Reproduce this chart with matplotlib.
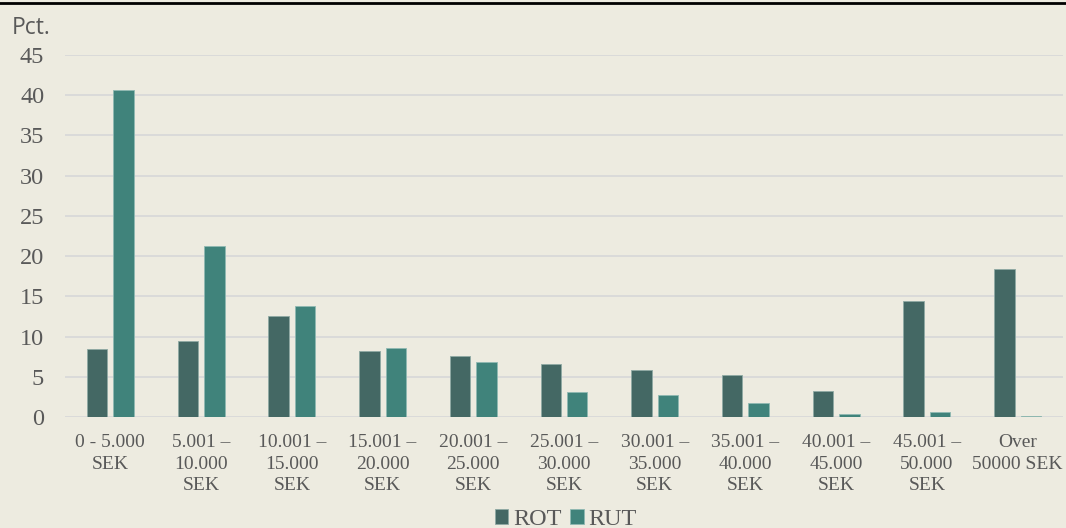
import matplotlib
matplotlib.use("Agg")
import matplotlib.pyplot as plt
import numpy as np
from matplotlib.lines import Line2D

categories = ["0 - 5.000\nSEK", "5.001 –\n10.000\nSEK", "10.001 –\n15.000\nSEK",
              "15.001 –\n20.000\nSEK", "20.001 –\n25.000\nSEK", "25.001 –\n30.000\nSEK",
              "30.001 –\n35.000\nSEK", "35.001 –\n40.000\nSEK", "40.001 –\n45.000\nSEK",
              "45.001 –\n50.000\nSEK", "Over\n50000 SEK"]
rot = [8.4, 9.4, 12.6, 8.2, 7.6, 6.6, 5.8, 5.2, 3.2, 14.4, 18.4]
rut = [40.7, 21.3, 13.8, 8.6, 6.8, 3.1, 2.7, 1.7, 0.35, 0.62, 0.15]
yticks = [0, 5, 10, 15, 20, 25, 30, 35, 40, 45]

BG = "#EDEBE0"
ROT_C = "#446864"
RUT_C = "#40837B"
TXT = "#595959"
SERIF = ["Liberation Serif", "DejaVu Serif"]

W, H = 1066, 528
fig = plt.figure(figsize=(W / 100, H / 100), dpi=100, facecolor=BG)
ax = fig.add_axes([65 / W, 111 / H, (1063 - 65) / W, 362 / H], facecolor=BG)

x = np.arange(len(categories))
bw = 0.226
off = 0.146
ax.bar(x - off, rot, bw, color=ROT_C, edgecolor="#8FA9A4", linewidth=0.6, label="ROT", zorder=3)
ax.bar(x + off, rut, bw, color=RUT_C, edgecolor="#8FB9B2", linewidth=0.6, label="RUT", zorder=3)

ax.set_xlim(-0.5, len(categories) - 0.5)
ax.set_ylim(0, 45)
ax.set_yticks(yticks)
ax.set_yticklabels([str(t) for t in yticks], family=SERIF, fontsize=17.5, color=TXT)
ax.set_xticks(x)
ax.set_xticklabels(categories, family=SERIF, fontsize=14, color=TXT, linespacing=1.32)
ax.tick_params(axis="y", length=0, pad=15)
ax.tick_params(axis="x", length=0, pad=12.5)
ax.grid(axis="y", color="#D9D9D9", linewidth=1.3, zorder=0)
for s in ax.spines.values():
    s.set_visible(False)

fig.text(12 / W, 1 - 28 / H, "Pct.", family=["Open Sans", "DejaVu Sans"],
         fontsize=16.5, color=TXT, ha="left", va="center")

fig.add_artist(Line2D([0, 1], [1 - 3.3 / H, 1 - 3.3 / H], color="black", linewidth=2.0,
                      transform=fig.transFigure))

leg = fig.legend(loc="lower center", bbox_to_anchor=(566 / W, -19 / H), ncol=2, frameon=False,
                 prop={"family": SERIF, "size": 17.5}, handlelength=0.55, handleheight=0.55,
                 handletextpad=0.2, columnspacing=0.35, borderpad=0.2)
for t in leg.get_texts():
    t.set_color(TXT)

fig.savefig("out.png", dpi=100, facecolor=BG)
